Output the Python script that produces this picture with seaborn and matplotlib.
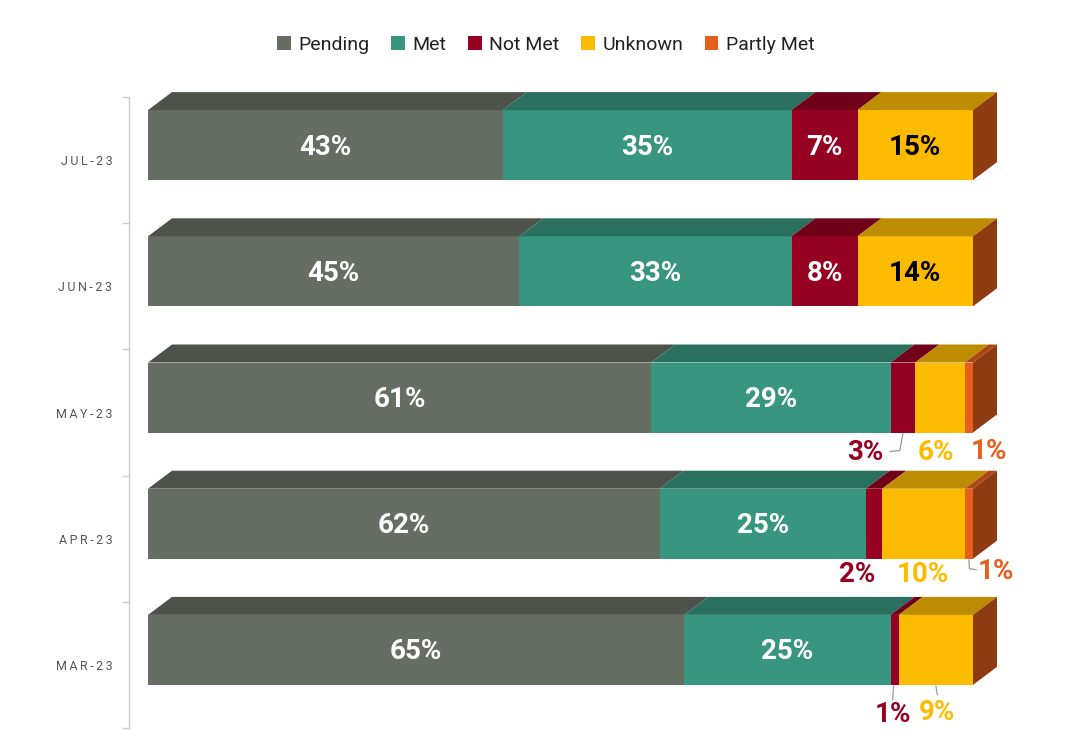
import numpy as np
import pandas as pd
import matplotlib
matplotlib.use("Agg")
import matplotlib.pyplot as plt
import seaborn as sns
from matplotlib.patches import Polygon, Patch
import matplotlib.colors as mc

# ---- data ----
months = ["JUL-23", "JUN-23", "MAY-23", "APR-23", "MAR-23"]
series = ["Pending", "Met", "Not Met", "Unknown", "Partly Met"]
# bar widths as drawn (percent)
pending = [43, 45, 61, 62, 65]
met = [35, 33, 29, 25, 25]
not_met = [8, 8, 3, 2, 1]
unknown = [14, 14, 6, 10, 9]
partly_met = [0, 0, 1, 1, 0]
# value labels as printed
pending_labels = [43, 45, 61, 62, 65]
met_labels = [35, 33, 29, 25, 25]
not_met_labels = [7, 8, 3, 2, 1]
unknown_labels = [15, 14, 6, 10, 9]
partly_met_labels = [0, 0, 1, 1, 0]
colors = ["#666d62", "#38957f", "#960021", "#fdbb00", "#e75f1d"]
text_colors = ["white", "white", "white", "black", "white"]

values = np.array([pending, met, not_met, unknown, partly_met], dtype=float)  # series x months
labels = np.array([pending_labels, met_labels, not_met_labels, unknown_labels, partly_met_labels])
cum = np.cumsum(values, axis=0)
left = cum - values

# ---- layout (pixels) ----
W, H = 1080, 730
PX = 8.25          # px per percent
PY = 126.2         # px per category
DX = 24 / PX       # 3D depth x
DY = 18 / PY       # 3D depth y
BAR_H = 70 / PY
SHIFT = -15 / PY   # bar front center relative to category center

def darker(c, f):
    r, g, b = mc.to_rgb(c)
    return (r * f, g * f, b * f)

sns.set_theme(style="white")
plt.rcParams["font.family"] = ["Roboto", "DejaVu Sans"]

fig = plt.figure(figsize=(W / 100, H / 100), dpi=100)
ax = fig.add_axes([129 / W, (H - 728) / H, (1010 - 129) / W, (728 - 97) / H])

# front faces via seaborn (cumulative bars, drawn back to front)
for k in reversed(range(len(series))):
    df = pd.DataFrame({"month": months, "end": cum[k]})
    sns.barplot(data=df, x="end", y="month", order=months, orient="h",
                color=colors[k], saturation=1, width=BAR_H, linewidth=0, ax=ax,
                errorbar=None)
for p in ax.patches:
    p.set_y(p.get_y() + SHIFT)

ax.set_xlim(-(148 - 129) / PX, (1010 - 148) / PX)
ax.set_ylim(4.5, -0.5)

# outside labels: offsets in px from segment centre x / bar bottom y
outside = {
    ("MAY-23", "Not Met"): ((-38, 20), [(0, 1), (-3, 18), (-13, 19)]),
    ("MAY-23", "Unknown"): ((-4, 20), None),
    ("MAY-23", "Partly Met"): ((20, 19), None),
    ("APR-23", "Not Met"): ((-17, 16), None),
    ("APR-23", "Unknown"): ((-1, 16), None),
    ("APR-23", "Partly Met"): ((27, 13), [(0, 1), (0.5, 10), (7.5, 11)]),
    ("MAR-23", "Not Met"): ((-2, 30), [(-1, 1), (-2, 15)]),
    ("MAR-23", "Unknown"): ((1.5, 28), [(0, 1), (1.5, 10)]),
}

for i, m in enumerate(months):
    top = i + SHIFT - BAR_H / 2
    bot = i + SHIFT + BAR_H / 2
    for k in range(len(series)):
        x0, x1 = left[k, i], cum[k, i]
        if x1 - x0 > 0:
            poly = Polygon([(x0, top), (x1, top), (x1 + DX, top - DY), (x0 + DX, top - DY)],
                           closed=True, facecolor=darker(colors[k], 0.75), edgecolor="none",
                           clip_on=False, zorder=3)
            ax.add_patch(poly)
    # right side face
    xe = cum[-1, i]
    side = Polygon([(xe, top), (xe, bot), (xe + DX, bot - DY), (xe + DX, top - DY)],
                   closed=True, facecolor=darker(colors[-1], 0.62), edgecolor="none",
                   clip_on=False, zorder=3)
    ax.add_patch(side)
    # inside labels
    for k in range(len(series)):
        v = values[k, i]
        if v > 0 and (m, series[k]) not in outside:
            ax.text((left[k, i] + cum[k, i]) / 2, i + SHIFT + 2 / PY, f"{labels[k, i]}%",
                    ha="center", va="center", fontsize=20, fontweight="bold",
                    color=text_colors[k], zorder=5)

for (m, s), ((lx, ly), leader) in outside.items():
    i = months.index(m)
    k = series.index(s)
    xc = (left[k, i] + cum[k, i]) / 2
    bot = i + SHIFT + BAR_H / 2
    ax.text(xc + lx / PX, bot + ly / PY, f"{labels[k, i]}%", ha="center", va="center",
            fontsize=20, fontweight="bold", color=colors[k], zorder=5, clip_on=False)
    if leader:
        xs = [xc + a / PX for a, b in leader]
        ys = [bot + b / PY for a, b in leader]
        ax.plot(xs, ys, color="#999999", lw=0.9, zorder=4, clip_on=False)

# axes styling
ax.set_xlabel("")
ax.set_ylabel("")
ax.set_xticks([])
ax.set_yticks(range(len(months)))
ax.set_yticklabels(["\u2009".join(m) for m in months])
ax.set_yticks(np.arange(-0.5, len(months), 1.0), minor=True)
ax.tick_params(axis="y", which="major", length=0, pad=12, labelsize=9, labelcolor="#555555")
ax.tick_params(axis="y", which="minor", length=5, width=1, color="#cccccc", direction="out", left=True)
for sp in ["top", "right", "bottom"]:
    ax.spines[sp].set_visible(False)
ax.spines["left"].set_color("#cccccc")
ax.spines["left"].set_linewidth(1)
ax.set_facecolor("white")
fig.patch.set_facecolor("white")

handles = [Patch(facecolor=c, edgecolor="none", label=s) for s, c in zip(series, colors)]
leg = fig.legend(handles=handles, loc="center", bbox_to_anchor=(546 / W, 1 - 45 / H), ncol=5,
                 frameon=False, fontsize=14, handlelength=0.7, handleheight=0.7,
                 handletextpad=0.4, columnspacing=1.1)
for t in leg.get_texts():
    t.set_color("#222222")

fig.savefig("out.png", dpi=100, facecolor="white")
